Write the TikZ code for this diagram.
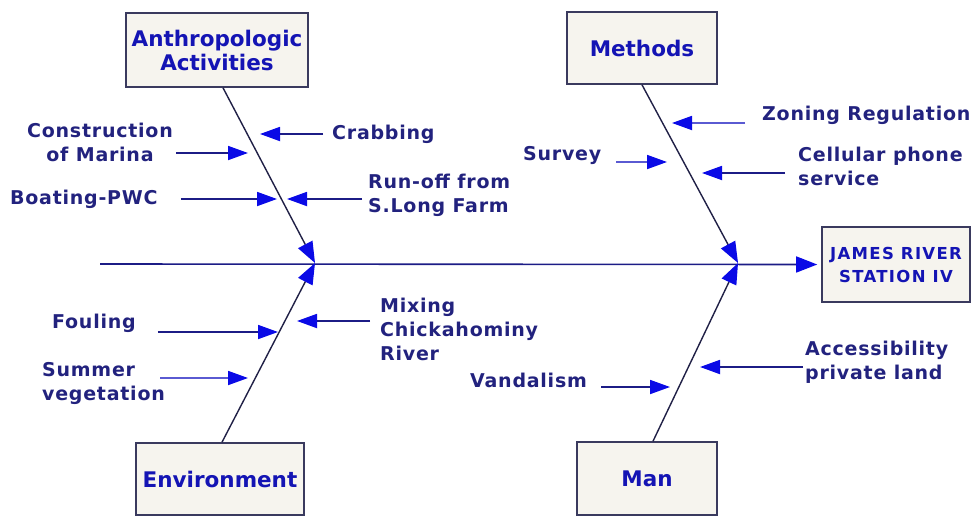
\documentclass[tikz,border=0pt]{standalone}
\usepackage{fontspec}
\setmainfont{DejaVu Sans}
\newfontfamily\lblfont{DejaVu Sans}[LetterSpace=4.0]
\newfontfamily\capsfont{DejaVu Sans}[LetterSpace=8.0]
\usetikzlibrary{arrows.meta}
\definecolor{boxfill}{HTML}{F6F4EE}
\definecolor{boxline}{HTML}{3A3A5E}
\definecolor{boxtext}{HTML}{1414B4}
\definecolor{lbltext}{HTML}{22227E}
\definecolor{shaft}{HTML}{1C1C86}
\definecolor{pale}{HTML}{5A5AD2}
\definecolor{head}{HTML}{0A0AE6}
\definecolor{bonec}{HTML}{202046}

\begin{document}
\begin{tikzpicture}[x=1pt, y=-1pt,
    catbox/.style={draw=boxline, line width=1.6pt, fill=boxfill, text=boxtext, font=\fontsize{21.5}{24}\selectfont\bfseries, align=center, inner sep=0pt},
    bone/.style={draw=bonec, line width=1.4pt, -{Triangle[length=21pt,width=16pt,color=head]}},
    lbl/.style={font=\lblfont\fontsize{19}{24}\selectfont\bfseries, text=lbltext, align=left, inner sep=0pt},
    arr/.style={draw=shaft, line width=1.8pt, -{Triangle[length=20pt,width=14pt,color=head]}}]
  \useasboundingbox (0,0) rectangle (973,517);

  % ── category boxes and the effect ──
  \node[catbox, minimum width=182, minimum height=74] (anthro)  at (217,50)    {Anthropologic\\Activities};
  \node[catbox, minimum width=150, minimum height=72] (methods) at (642,48)    {Methods};
  \node[catbox, minimum width=168, minimum height=72] (env)     at (220,479)   {Environment};
  \node[catbox, minimum width=140, minimum height=73] (man)     at (647,478.5) {Man};
  \node[catbox, minimum width=148, minimum height=75, font=\capsfont\fontsize{16.5}{23}\selectfont\bfseries] (effect) at (896,264.5) {JAMES RIVER\\STATION IV};

  % ── spine and bones ──
  \coordinate (tail) at (100,264);
  \coordinate (j1) at (315,263);
  \coordinate (j2) at (738,263);
  \draw[arr, line width=1.6pt, -{Triangle[length=21pt,width=16pt,color=head]}, shorten >=4pt] (tail) -- (effect.west);
  \draw[bone] ([xshift=6]anthro.south) -- (j1);
  \draw[bone] (methods.south) -- (j2);
  \draw[bone] ([xshift=2]env.north) -- (j1);
  \draw[bone] ([xshift=6]man.north) -- (j2);

  % ── Anthropologic Activities ──
  \coordinate (a1) at (248,153);
  \coordinate (a2) at (260,134);
  \coordinate (a3) at (277,199);
  \coordinate (a4) at (287,199);
  \node[lbl, align=center] (constr) at (100,142) {Construction\\of Marina};
  \node[lbl, anchor=west] (crab)   at (332,134) {Crabbing};
  \node[lbl, anchor=west] (boat)   at (10,199)  {Boating-PWC};
  \node[lbl, anchor=west] (runoff) at (368,195) {Run-off from\\S.Long Farm};
  \draw[arr] ([xshift=3]constr.east |- a1) -- (a1);
  \draw[arr] ([xshift=-9]crab.west) -- (a2);
  \draw[arr] ([xshift=23]boat.east |- a3) -- (a3);
  \draw[arr] ([xshift=-6]runoff.west |- a4) -- (a4);

  % ── Methods ──
  \coordinate (b1) at (672,123);
  \coordinate (b2) at (667,162);
  \coordinate (b3) at (702,173);
  \node[lbl, anchor=west] (zoning) at (762,115) {Zoning Regulation};
  \node[lbl, anchor=west] (survey) at (523,155) {Survey};
  \node[lbl, anchor=west] (cell)   at (798,166) {Cellular phone\\service};
  \draw[arr, draw=pale] ([xshift=-17]zoning.west |- b1) -- (b1);
  \draw[arr, draw=pale] ([xshift=15]survey.east |- b2) -- (b2);
  \draw[arr] ([xshift=-13]cell.west |- b3) -- (b3);

  % ── Environment ──
  \coordinate (c1) at (278,332);
  \coordinate (c2) at (248,378);
  \coordinate (c3) at (297,321);
  \node[lbl, anchor=west] (fouling) at (52,323)  {Fouling};
  \node[lbl, anchor=west] (summer)  at (42,383)  {Summer\\vegetation};
  \node[lbl, anchor=west] (mixing)  at (380,329) {Mixing\\Chickahominy\\River};
  \draw[arr] ([xshift=22]fouling.east |- c1) -- (c1);
  \draw[arr, draw=pale] ([xshift=-5]summer.east |- c2) -- (c2);
  \draw[arr] ([xshift=-10]mixing.west |- c3) -- (c3);

  % ── Man ──
  \coordinate (d1) at (670,387);
  \coordinate (d2) at (700,367);
  \node[lbl, anchor=west] (vandal) at (470,380) {Vandalism};
  \node[lbl, anchor=west] (access) at (805,362) {Accessibility\\private land};
  \draw[arr] ([xshift=14]vandal.east |- d1) -- (d1);
  \draw[arr] ([xshift=-2]access.west |- d2) -- (d2);
\end{tikzpicture}
\end{document}
